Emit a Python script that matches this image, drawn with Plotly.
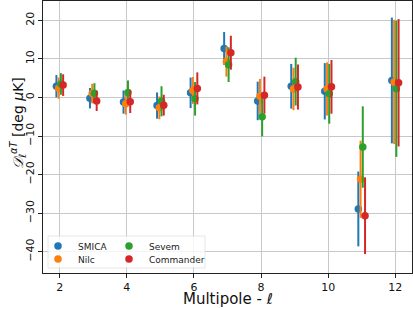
import plotly.graph_objects as go

ells = [2, 3, 4, 5, 6, 7, 8, 9, 10, 11, 12]
names = ["SMICA", "Nilc", "Sevem", "Commander"]
colors = ["#1f77b4", "#ff7f0e", "#2ca02c", "#d62728"]

smica = [2.9, -0.2, -1.2, -2.1, 1.2, 12.7, -0.9, 2.9, 1.6, -28.9, 4.4]
smica_err = [2.9, 2.65, 3.0, 3.4, 3.95, 4.25, 5.0, 5.8, 7.3, 9.7, 16.3]
nilc = [2.4, 1.0, -1.6, -2.7, 1.8, 9.3, 0.3, 2.2, 2.2, -21.2, 4.0]
nilc_err = [2.75, 2.55, 2.85, 2.95, 3.5, 3.9, 4.5, 5.5, 6.9, 10.0, 16.1]
sevem = [3.5, 1.1, 1.3, -1.0, -0.35, 8.5, -5.0, 4.1, 0.95, -12.85, 2.25]
sevem_err = [2.8, 2.6, 3.1, 3.9, 4.35, 4.5, 5.1, 6.2, 7.75, 10.55, 17.65]
commander = [3.2, -0.9, -1.1, -2.0, 2.35, 11.6, 0.6, 2.7, 2.75, -30.65, 3.8]
commander_err = [2.8, 2.6, 2.95, 2.7, 4.15, 4.4, 4.8, 5.85, 6.95, 9.95, 16.5]

values = [smica, nilc, sevem, commander]
errors = [smica_err, nilc_err, sevem_err, commander_err]
offsets = [-0.1, -0.033, 0.033, 0.1]

FONT = "DejaVu Sans"
fig = go.Figure()
legend_ids = ["legend", "legend2", "legend3", "legend4"]
for i in range(4):
    fig.add_trace(go.Scatter(
        x=[e + offsets[i] for e in ells], y=values[i], mode="markers", name=names[i],
        marker=dict(color=colors[i], size=7.5),
        error_y=dict(type="data", array=errors[i], visible=True, color=colors[i],
                     thickness=2, width=0),
        legend=legend_ids[i],
    ))

W, H = 413, 310
ml, mr, mt, mb = 43, 1, 1, 37
pw, ph = W - ml - mr, H - mt - mb

def px_x(x):
    return (x - ml) / pw

def px_y(y):
    return (H - mb - y) / ph

leg_pos = [(38, 246), (38, 259), (109, 246), (109, 259)]
legs = {}
for lid, (lx, ly) in zip(legend_ids, leg_pos):
    legs[lid] = dict(x=px_x(lx), y=px_y(ly), xanchor="left", yanchor="middle",
                     bgcolor="rgba(0,0,0,0)", font=dict(family=FONT, size=9, color="#222"),
                     itemwidth=30, borderwidth=0)

axis_common = dict(showgrid=True, gridcolor="#c8c8c8", gridwidth=1.2,
                   showline=True, linecolor="#222", linewidth=1, mirror=True,
                   ticks="outside", ticklen=4, tickcolor="#222", zeroline=False,
                   tickfont=dict(family=FONT, size=11, color="#111"))

fig.update_layout(
    width=W, height=H, margin=dict(l=ml, r=mr, t=mt, b=mb),
    paper_bgcolor="white", plot_bgcolor="white",
    showlegend=True,
    xaxis=dict(range=[1.5, 12.5], tickvals=[2, 4, 6, 8, 10, 12], **axis_common),
    yaxis=dict(range=[-45.5, 25], tickvals=[-40, -30, -20, -10, 0, 10, 20], tickangle=-90,
               **axis_common),
    annotations=[
        dict(text="<i>𝒟</i><sub><i>ℓ</i></sub><sup><i>αT</i></sup> [deg <i>μ</i>K]",
             xref="paper", yref="paper", x=px_x(18), y=px_y(123),
             xanchor="center", yanchor="middle", textangle=-90, showarrow=False,
             font=dict(family=FONT, size=14, color="#111")),
        dict(text="Multipole - <i>ℓ</i>",
             xref="paper", yref="paper", x=0.5, y=px_y(310),
             xanchor="center", yanchor="bottom", showarrow=False,
             font=dict(family=FONT, size=15, color="#111")),
    ],
    shapes=[dict(type="rect", xref="paper", yref="paper", layer="above",
                 x0=px_x(48), x1=px_x(205), y0=px_y(268), y1=px_y(236),
                 fillcolor="rgba(255,255,255,0.8)", line=dict(color="rgba(215,215,215,0.6)", width=1))],
    **legs,
)

fig.write_html("out.html", config={"displayModeBar": False},
               post_script="document.body.style.margin='0';")
